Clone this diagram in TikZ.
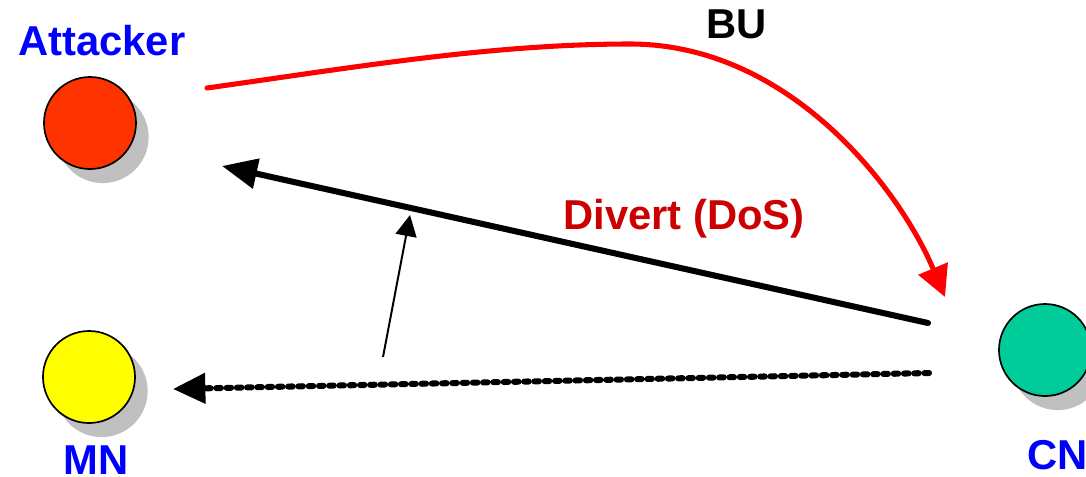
\documentclass[tikz,border=0pt]{standalone}
\usepackage{fontspec}
\setmainfont{Liberation Sans}
\usepackage{xcolor}
\usepackage{tikz}
\usetikzlibrary{arrows.meta, shadows}

\definecolor{atkred}{HTML}{FF3300}
\definecolor{mnyellow}{HTML}{FFFF00}
\definecolor{cngreen}{HTML}{00CC99}
\definecolor{shadowgray}{HTML}{C0C0C0}
\definecolor{lblblue}{HTML}{0000FF}
\definecolor{divred}{HTML}{CC0000}
\definecolor{bured}{HTML}{FF0000}

\begin{document}
\begin{tikzpicture}[
  x=0.025cm, y=-0.025cm,
  every node/.style = {font=\fontsize{29.7}{32}\selectfont\bfseries},
  host/.style  = {circle, draw, line width=1.2pt, minimum size=2.3cm, inner sep=0pt,
                  drop shadow={shadow xshift=9pt, shadow yshift=-10pt,
                               fill=shadowgray, opacity=1}},
  lbl/.style   = {anchor=base west, inner sep=0pt},
  bu/.style    = {-{Triangle[length=22pt, width=22pt]}, line width=3.6pt,
                  bured, line cap=round},
  divert/.style= {-{Triangle[length=25pt, width=21pt]}, line width=4.3pt,
                  line cap=round},
  thin/.style  = {-{Triangle[length=15pt, width=15pt]}, line width=1.4pt},
  data/.style  = {-{Triangle[length=23pt, width=21pt]}, line width=4.3pt,
                  line cap=round, dash pattern=on 3.2pt off 4.1pt}
]
\useasboundingbox (0,0) rectangle (1086,476);

% hosts
\node[host, fill=atkred]   (att) at (90,123)  {};
\node[host, fill=mnyellow] (mn)  at (89,377)  {};
\node[host, fill=cngreen]  (cn)  at (1045,350) {};

\node[lbl, lblblue] (attlbl) at (18,55)   {Attacker};
\node[lbl, lblblue] (mnlbl)  at (63,474)  {MN};
\node[lbl, lblblue] (cnlbl)  at (1027,469) {CN};
\node[lbl]          (bulbl)  at (706,38)  {BU};
\node[lbl, divred]  (divlbl) at (563,229) {Divert (DoS)};

% arrow ends
\coordinate (bustart)  at (207,88);
\coordinate (bupeak)   at (630,44);
\coordinate (buend)    at (945,297);
\coordinate (divstart) at (928,323);
\coordinate (divend)   at (222,166);
\coordinate (thinfrom) at (383,357);
\coordinate (thinto)   at (410,215);
\coordinate (datafrom) at (929,373);
\coordinate (datato)   at (173,389);

\draw[bu] (bustart) .. controls (350,68) and (490,44) .. (bupeak)
          .. controls (790,44) and (900,190) .. (buend);
\draw[divert] (divstart) -- (divend);
\draw[thin]   (thinfrom) -- (thinto);
\draw[data]   (datafrom) -- (datato);

\end{tikzpicture}
\end{document}
